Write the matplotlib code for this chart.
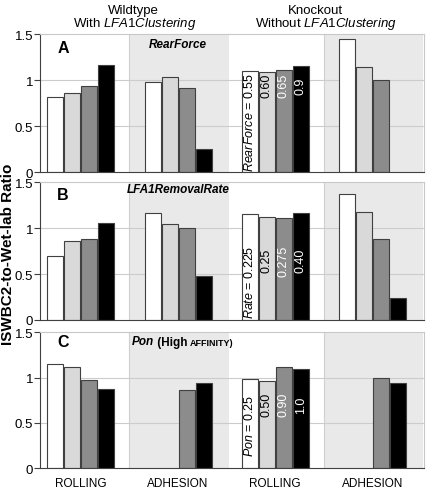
import numpy as np
import matplotlib
matplotlib.use("Agg")
import matplotlib.pyplot as plt

plt.rcParams['font.family'] = ['Liberation Sans', 'DejaVu Sans']
plt.rcParams['mathtext.fontset'] = 'custom'
plt.rcParams['mathtext.rm'] = 'Liberation Sans'
plt.rcParams['mathtext.it'] = 'Liberation Sans:italic'
plt.rcParams['mathtext.bf'] = 'Liberation Sans:bold'

categories = ["ROLLING", "ADHESION", "ROLLING", "ADHESION"]
nan = np.nan

# values[panel][group] = [white, lightgray, gray, black]
panel_A = [[0.82, 0.86, 0.93, 1.16],
           [0.975, 1.035, 0.915, 0.25],
           [1.10, 1.09, 1.11, 1.155],
           [1.45, 1.14, 1.00, nan]]
panel_B = [[0.70, 0.855, 0.885, 1.055],
           [1.16, 1.04, 1.00, 0.48],
           [1.152, 1.125, 1.105, 1.16],
           [1.375, 1.17, 0.88, 0.235]]
panel_C = [[1.145, 1.12, 0.975, 0.88],
           [nan, nan, 0.862, 0.938],
           [0.982, 0.96, 1.115, 1.09],
           [nan, nan, 1.00, 0.94]]

labels_A = ["0.55", "0.60", "0.65", "0.9"]
labels_B = ["0.225", "0.25", "0.275", "0.40"]
labels_C = ["0.25", "0.50", "0.90", "1.0"]
param_A = "RearForce"
param_B = "Rate"
param_C = "Pon"

bar_colors = ["#ffffff", "#d9d9d9", "#8c8c8c", "#000000"]
text_colors = ["black", "black", "white", "white"]

W, H = 430, 489
fig = plt.figure(figsize=(W / 100, H / 100), dpi=100)

def axrect(top, bottom, left=40, right=424):
    return [left / W, 1 - bottom / H, (right - left) / W, (bottom - top) / H]

rects = [axrect(35, 173), axrect(183, 321), axrect(333.3, 469.3)]
panels = [panel_A, panel_B, panel_C]
plabels = [labels_A, labels_B, labels_C]
params = [param_A, param_B, param_C]
letters = ["A", "B", "C"]
letter_y = [0.90, 0.91, 0.93]
long_y = [1.087, 0.815, 0.826]
num_y = [0.945, 0.65, 0.71]

bw = 0.165
step = 0.175
offs = np.array([-1.5, -0.5, 0.5, 1.5]) * step
xg = np.arange(len(categories))

axes = []
for k in range(3):
    ax = fig.add_axes(rects[k])
    axes.append(ax)
    ax.set_xlim(-0.42, 3.53)
    ax.set_ylim(0, 1.5)
    for x0 in (0.5, 2.5):
        ax.axvspan(x0, x0 + 1.02, color="#e9e9e9", zorder=0, lw=0)
        ax.axvline(x0, color="#cfcfcf", lw=0.8, zorder=0.5)
    for gy in (0.5, 1.0):
        ax.axhline(gy, color="#cccccc", lw=0.8, zorder=1)
    vals = np.array(panels[k])
    for j in range(4):
        ax.bar(xg + offs[j], vals[:, j], width=bw, color=bar_colors[j],
               edgecolor="#404040", linewidth=0.8, zorder=2)
    # labels in group 3 bars
    for j in range(4):
        x = 2 + offs[j]
        if j == 0:
            s = r"$\mathit{%s}$ = %s" % (params[k], plabels[k][j])
            ax.text(x, long_y[k], s, rotation=90, ha="center", va="top",
                    fontsize=9, color=text_colors[j], zorder=3)
        else:
            ax.text(x, num_y[k], plabels[k][j], rotation=90, ha="center",
                    va="center", fontsize=9, color=text_colors[j], zorder=3)
    ax.set_yticks([0, 0.5, 1, 1.5])
    ax.set_yticklabels(["0", "0.5", "1", "1.5"], fontsize=9.5)
    ax.tick_params(axis="y", length=4, width=0.8, color="#404040", pad=1)
    ax.set_xticks(xg)
    if k == 2:
        ax.set_xticklabels(categories, fontsize=8.5)
        ax.tick_params(axis="x", length=0, pad=6)
    else:
        ax.set_xticklabels([])
        ax.tick_params(axis="x", length=0)
    ax.spines["left"].set_color("#404040")
    ax.spines["bottom"].set_color("#404040")
    ax.spines["top"].set_color("#c8c8c8")
    ax.spines["right"].set_color("#c8c8c8")
    for sp in ax.spines.values():
        sp.set_linewidth(0.8)
    ax.text(0.045, letter_y[k], letters[k],
            transform=ax.transAxes, fontsize=11.5, fontweight="bold",
            ha="left", va="center")

axes[0].text(1.0, 1.5 - 10 / 92, "RearForce", fontsize=8.5, fontweight="bold",
             fontstyle="italic", ha="center", va="center")
axes[1].text(1.0, 1.5 - 7 / 92, "LFA1RemovalRate", fontsize=8.5,
             fontweight="bold", fontstyle="italic", ha="center", va="center")

# Pon (High AFFINITY) with small caps
t1 = axes[2].text(0.52, 1.5 - 12 / 92, "Pon", fontsize=8.5, fontweight="bold",
                  fontstyle="italic", ha="left", va="baseline")
t2 = axes[2].annotate(" (High ", xy=(1, 0), xycoords=t1, xytext=(0, 1.8),
                      textcoords="offset points", fontsize=8.5,
                      fontweight="bold", ha="left", va="baseline")
t3 = axes[2].annotate("AFFINITY)", xy=(1, 0), xycoords=t2, xytext=(0, 1.8),
                      textcoords="offset points", fontsize=6.5,
                      fontweight="bold", ha="left", va="baseline")

fig.text(8 / W, 1 - 254 / H, "ISWBC2-to-Wet-lab Ratio", rotation=90,
         fontsize=11, fontweight="bold", ha="center", va="center")

fig.text(133 / W, 1 - 11 / H, "Wildtype", fontsize=9.5, ha="center", va="center")
fig.text(135 / W, 1 - 24 / H, r"With $\mathit{LFA1Clustering}$", fontsize=9.5,
         ha="center", va="center")
fig.text(315 / W, 1 - 11 / H, "Knockout", fontsize=9.5, ha="center", va="center")
fig.text(326 / W, 1 - 24 / H, r"Without $\mathit{LFA1Clustering}$", fontsize=9.5,
         ha="center", va="center")

fig.savefig("out.png", dpi=100)
